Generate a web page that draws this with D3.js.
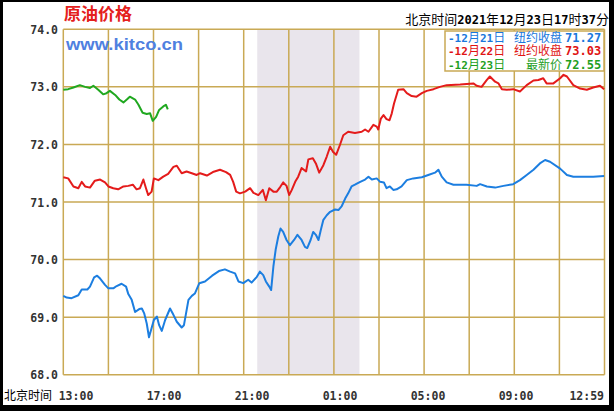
<!DOCTYPE html>
<html>
<head>
<meta charset="utf-8">
<script src="https://cdn.jsdelivr.net/npm/d3@7"></script>
<style>
  body { margin: 0; background: #fff; }
  svg { display: block; }
</style>
</head>
<body>
<svg id="chart" width="614" height="411"></svg>
<script>
// [minutes after 13:00 Beijing time, price]
const dec21 = [
  [0,69.37],[9,69.34],[22,69.33],[40,69.38],[49,69.48],[64,69.48],[71,69.53],[82,69.69],[90,69.72],[98,69.67],
  [111,69.56],[120,69.50],[133,69.50],[142,69.54],[155,69.58],[167,69.53],[173,69.40],[182,69.30],[191,69.09],
  [202,69.14],[209,69.15],[215,69.07],[222,68.89],[228,68.65],[235,68.81],[241,68.95],[249,69.01],[255,68.86],
  [262,68.76],[271,68.95],[284,69.15],[293,69.04],[302,68.92],[315,68.82],[321,68.86],[333,69.30],[342,69.37],
  [350,69.41],[362,69.59],[377,69.62],[396,69.72],[414,69.80],[430,69.83],[444,69.79],[457,69.76],[466,69.62],
  [479,69.59],[492,69.65],[501,69.60],[515,69.70],[523,69.79],[532,69.73],[539,69.62],[548,69.53],[553,69.47],
  [559,69.88],[565,70.17],[572,70.40],[578,70.54],[585,70.48],[594,70.34],[603,70.25],[614,70.34],[623,70.43],
  [634,70.34],[643,70.22],[649,70.20],[658,70.34],[665,70.48],[672,70.43],[679,70.34],[685,70.51],[692,70.69],
  [701,70.77],[710,70.83],[723,70.87],[732,70.86],[741,70.93],[750,71.06],[758,71.15],[767,71.27],[776,71.30],
  [790,71.35],[803,71.39],[812,71.44],[821,71.39],[834,71.41],[843,71.35],[853,71.34],[860,71.24],[869,71.27],
  [878,71.21],[887,71.22],[900,71.27],[914,71.38],[931,71.41],[954,71.43],[971,71.47],[989,71.51],[998,71.56],
  [1007,71.44],[1020,71.34],[1038,71.30],[1073,71.30],[1100,71.28],[1109,71.31],[1127,71.27],[1149,71.25],
  [1171,71.28],[1197,71.31],[1215,71.38],[1233,71.47],[1251,71.56],[1268,71.67],[1282,71.73],[1295,71.70],
  [1322,71.58],[1340,71.47],[1357,71.44],[1384,71.44],[1410,71.44],[1439,71.45]
];
const dec22 = [
  [0,71.43],[13,71.41],[27,71.27],[40,71.24],[49,71.35],[58,71.27],[71,71.25],[84,71.37],[98,71.39],[111,71.34],
  [120,71.27],[133,71.24],[146,71.22],[160,71.27],[173,71.28],[185,71.30],[195,71.22],[204,71.24],[213,71.39],
  [220,71.24],[226,71.12],[235,71.18],[241,71.41],[253,71.38],[266,71.44],[279,71.49],[293,71.61],[302,71.63],
  [315,71.50],[328,71.53],[342,71.50],[355,71.47],[364,71.50],[382,71.46],[398,71.52],[417,71.56],[433,71.52],
  [444,71.47],[452,71.35],[460,71.18],[470,71.15],[484,71.18],[497,71.24],[506,71.16],[519,71.12],[531,71.21],
  [539,71.03],[548,71.24],[559,71.18],[568,71.18],[577,71.26],[585,71.34],[594,71.28],[601,71.12],[608,71.21],
  [617,71.35],[625,71.44],[634,71.59],[646,71.53],[652,71.74],[664,71.76],[672,71.67],[681,71.51],[692,71.64],
  [701,71.79],[710,71.96],[718,71.87],[726,71.82],[736,71.99],[745,72.16],[758,72.22],[776,72.20],[794,72.22],
  [803,72.26],[812,72.22],[825,72.34],[834,72.31],[838,72.26],[845,72.45],[852,72.51],[860,72.44],[868,72.42],
  [874,72.54],[880,72.71],[891,72.95],[905,72.96],[914,72.89],[927,72.84],[940,72.83],[954,72.89],[967,72.93],
  [985,72.96],[1002,73.00],[1020,73.03],[1056,73.04],[1091,73.06],[1100,73.02],[1113,73.00],[1127,73.12],
  [1135,73.18],[1149,73.09],[1158,73.06],[1167,72.96],[1180,72.95],[1197,72.96],[1215,72.92],[1233,73.03],
  [1251,73.11],[1264,73.12],[1277,73.15],[1286,73.06],[1304,73.06],[1322,73.15],[1331,73.21],[1340,73.18],
  [1357,73.03],[1375,72.97],[1393,72.95],[1410,72.99],[1428,73.02],[1439,72.96]
];
const dec23 = [
  [0,72.95],[13,72.96],[27,72.99],[44,73.03],[58,73.00],[71,72.98],[80,73.02],[93,72.95],[106,72.87],[115,72.89],
  [124,72.93],[138,72.86],[149,72.78],[160,72.73],[169,72.78],[177,72.83],[191,72.78],[200,72.69],[211,72.55],
  [222,72.53],[231,72.54],[238,72.41],[247,72.48],[255,72.60],[266,72.66],[273,72.69],[278,72.61]
];

const yTicks = [68, 69, 70, 71, 72, 73, 74];
const xLabels = ['13:00', '17:00', '21:00', '01:00', '05:00', '09:00', '12:59'];
const shadeBand = [516, 788];   // grey band, minutes after 13:00

const legendDates = ['12月21日', '12月22日', '12月23日'];
const legendNames = ['纽约收盘', '纽约收盘', '最新价'];
const legendValues = ['71.27', '73.03', '72.55'];

const title = '原油价格';
const site = 'www.kitco.cn';
const stamp = '北京时间2021年12月23日17时37分';

const lineColors = ['#1c7ee0', '#e41b1b', '#20a820'];
const textColors = ['#1a78dc', '#e01414', '#1fa01f'];
const gridColor = '#c9a955';
const mono = '"DejaVu Sans Mono", monospace';
const cjk = '"Noto Sans CJK SC", sans-serif';

const svg = d3.select('#chart');

// black frame
svg.append('rect').attr('width', 614).attr('height', 411).attr('fill', '#000');
svg.append('rect').attr('x', 3).attr('y', 2).attr('width', 606).attr('height', 403).attr('fill', '#fff');

const x = d3.scaleLinear().domain([0, 1440]).range([63.3, 604.5]);
const y = d3.scaleLinear().domain([68, 74]).range([374.7, 29.3]);

// write text with CJK runs in one font and digits in a bold mono font
function mixed(sel, str, cjkSize, latinSize) {
  str.match(/[\u4e00-\u9fff]+|[^\u4e00-\u9fff]+/g).forEach(run => {
    const isCjk = /[\u4e00-\u9fff]/.test(run);
    sel.append('tspan')
      .attr('font-family', isCjk ? cjk : mono)
      .attr('font-size', isCjk ? cjkSize : latinSize)
      .attr('font-weight', isCjk ? 'normal' : 'bold')
      .text(run);
  });
  return sel;
}

svg.append('rect')
  .attr('x', x(shadeBand[0]))
  .attr('y', y(74))
  .attr('width', x(shadeBand[1]) - x(shadeBand[0]))
  .attr('height', y(68) - y(74))
  .attr('fill', '#e9e5ec');

// grid
svg.append('g').selectAll('line')
  .data(d3.range(0, 1441, 120))
  .join('line')
  .attr('x1', d => x(d)).attr('x2', d => x(d))
  .attr('y1', y(74)).attr('y2', y(68))
  .attr('stroke', gridColor).attr('stroke-width', 1.5);

svg.append('g').selectAll('line')
  .data(yTicks)
  .join('line')
  .attr('x1', x(0)).attr('x2', x(1440))
  .attr('y1', d => y(d)).attr('y2', d => y(d))
  .attr('stroke', gridColor).attr('stroke-width', 1.5);

// y labels
svg.append('g').selectAll('text')
  .data(yTicks)
  .join('text')
  .attr('x', 58)
  .attr('y', d => y(d) + 4.5)
  .attr('text-anchor', 'end')
  .attr('font-family', mono).attr('font-weight', 'bold').attr('font-size', 11.5)
  .attr('fill', '#333')
  .text(d => d.toFixed(1));

// x labels
const xl = d3.scalePoint().domain(xLabels).range([76, 604]);
svg.append('g').selectAll('text')
  .data(xLabels)
  .join('text')
  .attr('x', d => xl(d))
  .attr('y', 400)
  .attr('text-anchor', (d, i) => i === xLabels.length - 1 ? 'end' : 'middle')
  .attr('font-family', mono).attr('font-weight', 'bold').attr('font-size', 11.5)
  .attr('fill', '#333')
  .text(d => d);

svg.append('text')
  .attr('x', 4).attr('y', 400)
  .attr('font-family', cjk).attr('font-size', 12).attr('fill', '#000')
  .text('北京时间');

// price lines
const line = d3.line()
  .x(d => x(d[0]))
  .y(d => y(d[1]));

[dec21, dec22, dec23].forEach((series, i) => {
  svg.append('path')
    .attr('d', line(series))
    .attr('fill', 'none')
    .attr('stroke', lineColors[i])
    .attr('stroke-width', 2)
    .attr('stroke-linejoin', 'round');
});

// title and site
svg.append('text')
  .attr('x', 64).attr('y', 20)
  .attr('font-family', cjk).attr('font-weight', 'bold').attr('font-size', 17)
  .attr('fill', '#e4201c')
  .text(title);

svg.append('text')
  .attr('x', 66).attr('y', 50)
  .attr('font-family', '"Liberation Sans", Arial, sans-serif').attr('font-weight', 'bold').attr('font-size', 17)
  .attr('textLength', 117).attr('lengthAdjust', 'spacingAndGlyphs')
  .attr('fill', '#4f80e0')
  .text(site);

mixed(svg.append('text').attr('x', 609).attr('y', 24).attr('text-anchor', 'end').attr('fill', '#000'),
  stamp, 13, 12);

// legend box
svg.append('rect')
  .attr('x', 445).attr('y', 31).attr('width', 159).attr('height', 40)
  .attr('fill', '#fff').attr('stroke', gridColor).attr('stroke-width', 1.5);

legendDates.forEach((d, i) => {
  const by = 41.5 + i * 13.7;
  mixed(svg.append('text').attr('x', 448).attr('y', by).attr('fill', textColors[i]), '-' + d, 12, 11);
  svg.append('text')
    .attr('x', 562).attr('y', by).attr('text-anchor', 'end')
    .attr('font-family', cjk).attr('font-size', 12).attr('fill', textColors[i])
    .text(legendNames[i]);
  svg.append('text')
    .attr('x', 565).attr('y', by)
    .attr('font-family', mono).attr('font-weight', 'bold').attr('font-size', 12)
    .attr('fill', textColors[i])
    .text(legendValues[i]);
});
</script>
</body>
</html>
